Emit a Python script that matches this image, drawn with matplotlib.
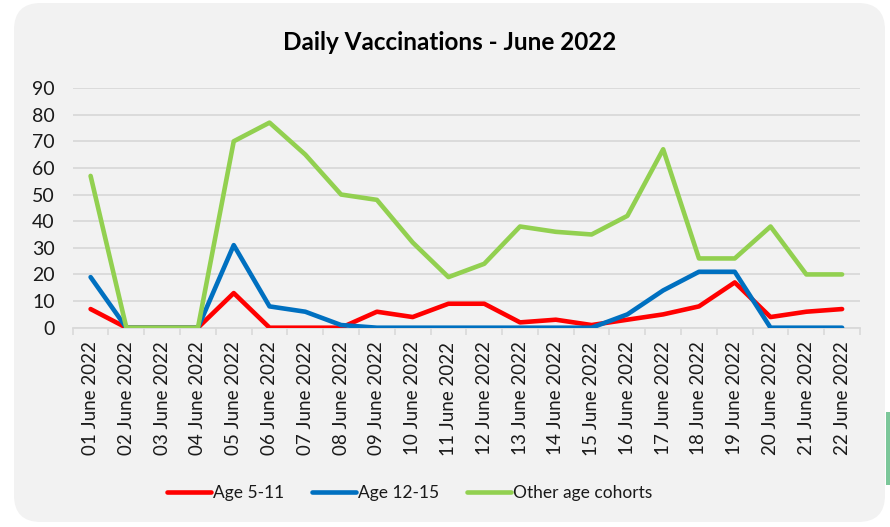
import matplotlib
matplotlib.use("Agg")
import matplotlib.pyplot as plt
from matplotlib.patches import FancyBboxPatch, Rectangle

# data
days = ["01 June 2022", "02 June 2022", "03 June 2022", "04 June 2022", "05 June 2022",
        "06 June 2022", "07 June 2022", "08 June 2022", "09 June 2022", "10 June 2022",
        "11 June 2022", "12 June 2022", "13 June 2022", "14 June 2022", "15 June 2022",
        "16 June 2022", "17 June 2022", "18 June 2022", "19 June 2022", "20 June 2022",
        "21 June 2022", "22 June 2022"]
age_5_11 = [7, 0, 0, 0, 13, 0, 0, 0, 6, 4, 9, 9, 2, 3, 1, 3, 5, 8, 17, 4, 6, 7]
age_12_15 = [19, 0, 0, 0, 31, 8, 6, 1, 0, 0, 0, 0, 0, 0, 0, 5, 14, 21, 21, 0, 0, 0]
other_ages = [57, 0, 0, 0, 70, 77, 65, 50, 48, 32, 19, 24, 38, 36, 35, 42, 67, 26, 26, 38, 20, 20]
y_ticks = [0, 10, 20, 30, 40, 50, 60, 70, 80, 90]

plt.rcParams['font.family'] = ['Lato', 'DejaVu Sans']

W, H = 890, 527
fig = plt.figure(figsize=(W / 100, H / 100), dpi=100, facecolor="white")

# rounded grey panel behind the chart
panel = FancyBboxPatch((14 / W, 5 / H), 871 / W, 519 / H,
                       boxstyle="round,pad=0,rounding_size=0.03",
                       transform=fig.transFigure, facecolor="#f2f2f2",
                       edgecolor="none", zorder=-5, mutation_aspect=W / H)
fig.patches.append(panel)
# bits of the next slide peeking in at the right edge
fig.patches.append(Rectangle((886 / W, 1 - 485 / H), 4 / W, 73 / H,
                             transform=fig.transFigure, facecolor="#7cc79a",
                             edgecolor="none", zorder=-4))

ax = fig.add_axes([72.7 / W, 1 - 327.7 / H, (860 - 72.7) / W, (327.7 - 88) / H])
ax.set_facecolor("none")
ax.set_zorder(2)

x = list(range(len(days)))
ax.plot(x, age_5_11, color="#ff0000", lw=3.3, label="Age 5-11", solid_capstyle="round", zorder=3)
ax.plot(x, age_12_15, color="#0070c0", lw=3.3, label="Age 12-15", solid_capstyle="round", zorder=4)
ax.plot(x, other_ages, color="#92d050", lw=3.3, label="Other age cohorts", solid_capstyle="round", zorder=5)

ax.set_xlim(-0.5, len(days) - 0.5)
ax.set_ylim(0, 90)
ax.set_yticks(y_ticks)
ax.grid(axis="y", color="#d9d9d9", lw=1.3)
ax.set_axisbelow(True)

ax.set_xticks(x)
ax.set_xticklabels(days, rotation=90, fontsize=13.5, color="#1a1a1a")
ax.set_xticks([i - 0.5 for i in range(len(days) + 1)], minor=True)
ax.tick_params(axis="x", which="major", length=0, pad=10)
ax.tick_params(axis="x", which="minor", length=5, color="#d9d9d9", width=1.2)
ax.tick_params(axis="y", length=0, pad=13, labelsize=14, labelcolor="#1a1a1a")

for s in ["left", "right", "top"]:
    ax.spines[s].set_visible(False)
ax.spines["bottom"].set_color("#d9d9d9")
ax.spines["bottom"].set_linewidth(1.3)

fig.text(450 / W, 1 - 43 / H, "Daily Vaccinations - June 2022", ha="center", va="center",
         fontsize=17.5, fontweight="bold", color="#000000")

fig.legend(loc="center", bbox_to_anchor=(410 / W, 1 - 493 / H), ncol=3, frameon=False,
           fontsize=12.5, handlelength=2.5, handletextpad=0.15, columnspacing=1.6,
           labelcolor="#1a1a1a")

fig.savefig("out.png", dpi=100, facecolor="white")
